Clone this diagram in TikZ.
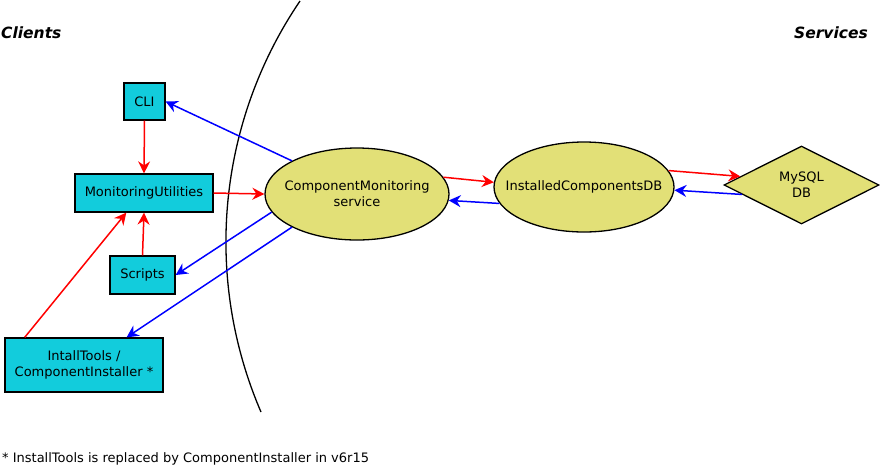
\documentclass[tikz,border=0pt]{standalone}
\usepackage{fontspec}
\setmainfont{DejaVu Sans}
\usepackage{tikz}
\usetikzlibrary{arrows.meta}
\usetikzlibrary{shapes.geometric}
\usepackage{xcolor}
\definecolor{clientcyan}{RGB}{18,204,220}
\definecolor{serviceyellow}{RGB}{226,224,119}

\begin{document}
\begin{tikzpicture}[x=1pt,y=-1pt]
\tikzstyle{every node}=[font=\fontsize{13}{16}\selectfont]
\tikzstyle{title}=[inner sep=0pt,font=\fontsize{15.5}{18}\selectfont\bfseries\itshape]
\tikzstyle{client}=[draw,line width=1.3pt,fill=clientcyan,inner sep=0pt,align=center]
\tikzstyle{service}=[draw,line width=1.3pt,fill=serviceyellow,ellipse,inner xsep=-16pt,inner ysep=0pt,align=center]
\tikzstyle{dbstore}=[draw,line width=1.3pt,fill=serviceyellow,diamond,inner sep=0pt,align=center,minimum width=155pt,minimum height=78pt]
\tikzstyle{req}=[draw=red,line width=1.5pt,arrows={-Stealth[length=12pt,width=12pt,inset=4pt]}]
\tikzstyle{resp}=[draw=blue,line width=1.5pt,arrows={-Stealth[length=12pt,width=12pt,inset=4pt]}]
\useasboundingbox (0,0) rectangle (880,467);
% side titles
\node[title,anchor=west] (clients) at (1,33) {Clients};
\node[title,anchor=east] (services) at (868,33) {Services};
% boundary between clients and services
\draw[line width=1.3pt] (300,1) .. controls (217.6,122.3) and (203,277.3) .. (261,412);
% clients
\node[client,minimum width=41pt,minimum height=37pt] (cli) at (144.5,101.5) {CLI};
\node[client,minimum width=138pt,minimum height=38pt] (mu) at (144,193) {MonitoringUtilities};
\node[client,minimum width=65pt,minimum height=38pt] (scripts) at (142.5,275) {Scripts};
\node[client,minimum width=158pt,minimum height=54pt] (inst) at (84,365) {IntallTools /\\ComponentInstaller *};
% services
\node[service,minimum width=184pt,minimum height=92pt] (cm) at (357,194) {ComponentMonitoring\\service};
\node[service,minimum width=180pt,minimum height=90pt] (icdb) at (584,187) {InstalledComponentsDB};
\node[dbstore] (mysql) at (801.5,185) {MySQL\\DB};
% requests
\path (cli.south) edge[req] (mu.north);
\path (scripts.north) edge[req] (mu.south);
\path (inst.155) edge[req] (mu.228);
\path (mu.east) edge[req] (cm.west);
\path (cm.11) edge[req] (icdb.177);
\path (icdb.11) edge[req] (mysql.172);
% responses
\path (cm.153) edge[resp] (cli.east);
\path (cm.192) edge[resp] (scripts.east);
\path (cm.207) edge[resp] (inst.33);
\path (icdb.191) edge[resp] (cm.356);
\path (mysql.189) edge[resp] (icdb.358);
% footnote
\node[anchor=west,inner sep=0pt] (note) at (2,459) {* InstallTools is replaced by ComponentInstaller in v6r15};
\end{tikzpicture}
\end{document}
